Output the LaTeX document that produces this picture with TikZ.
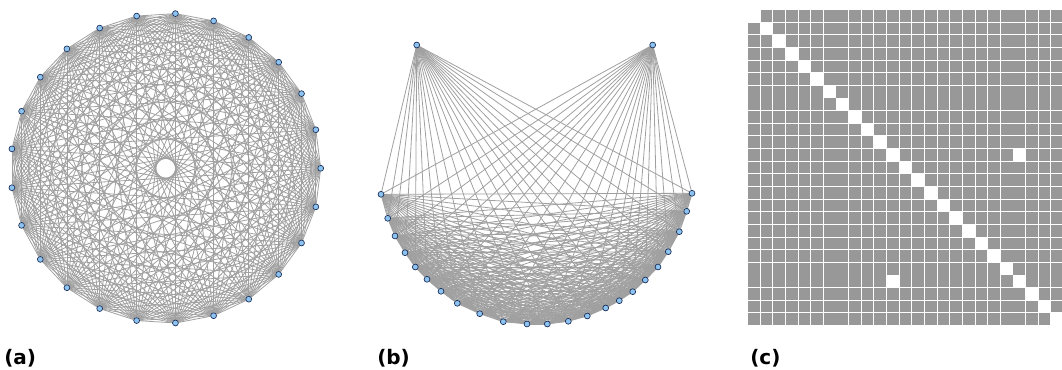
\documentclass[tikz,border=0pt]{standalone}
\usepackage{fontspec}
\setmainfont{DejaVu Sans}
\usetikzlibrary{backgrounds}
\definecolor{edgegray}{RGB}{160,160,160}
\definecolor{cellgray}{RGB}{152,152,152}
\definecolor{vfill}{RGB}{140,195,240}
\definecolor{vdraw}{RGB}{25,45,85}

\begin{document}
\begin{tikzpicture}[x=0.75pt,y=-0.75pt,
  v/.style={circle,draw=vdraw,fill=vfill,line width=0.5pt,inner sep=0pt,minimum size=4.4pt},
  e/.style={draw=edgegray,line width=0.6pt},
  cell/.style={fill=cellgray},
  lab/.style={anchor=base west,inner sep=0pt,font=\bfseries\fontsize{15}{18}\selectfont}
]
\useasboundingbox (0,0) rectangle (1062,370);

% (a) circular layout
\foreach \k in {0,...,24}
  \node[v] (a\k) at ([shift={(165.7,168.3)}]{-14.4*\k}:155) {};
\begin{scope}[on background layer]
\foreach \i in {0,...,23}{
  \pgfmathtruncatemacro\nxt{\i+1}
  \foreach \j in {\nxt,...,24}{
    \pgfmathtruncatemacro\nolink{(\i==11)&&(\j==21)}
    \ifnum\nolink=0 \draw[e] (a\i) -- (a\j); \fi
  }}
\end{scope}

% (b) arc layout, the two non-adjacent vertices on top
\foreach \x/\y [count=\k from 0] in {381.0/194.3,387.7/218.3,395.0/236.0,405.0/252.7,
    415.3/267.0,427.0/279.3,441.0/291.3,457.3/303.3,479.7/313.7,503.3/321.7,
    527.0/324.0,547.3/324.0,568.3/321.3,587.3/316.0,605.7/308.0,619.3/300.7,
    632.7/291.7,645.3/280.0,658.0/267.0,668.3/251.7,679.3/231.7,686.7/211.3,
    692.0/193.3,416.7/45.0,652.7/45.0}
  \node[v] (b\k) at (\x,\y) {};
\begin{scope}[on background layer]
\foreach \i in {0,...,23}{
  \pgfmathtruncatemacro\nxt{\i+1}
  \foreach \j in {\nxt,...,24}{
    \pgfmathtruncatemacro\nolink{(\i==23)&&(\j==24)}
    \ifnum\nolink=0 \draw[e] (b\i) -- (b\j); \fi
  }}
\end{scope}

% (c) adjacency matrix
\foreach \r in {0,...,24}
  \foreach \c in {0,...,24}{
    \pgfmathtruncatemacro\blank{(\r==\c)||((\r==11)&&(\c==21))||((\r==21)&&(\c==11))}
    \ifnum\blank=0
      \fill[cell] ({748+12.64*\c},{10+12.64*\r}) rectangle ++(11.7,11.7);
    \fi
  }

\node[lab] (capa) at (4,364) {(a)};
\node[lab] (capb) at (377,364) {(b)};
\node[lab] (capc) at (750,364) {(c)};
\end{tikzpicture}
\end{document}
